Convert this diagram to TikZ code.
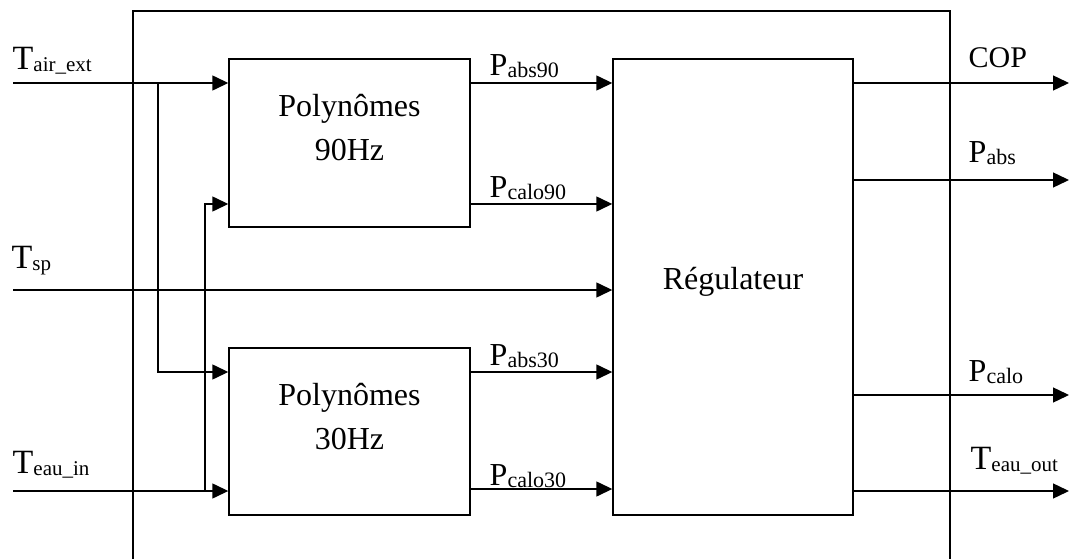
\documentclass[tikz,border=0pt]{standalone}
\usepackage{fontspec}
\setmainfont{Liberation Serif}
\usetikzlibrary{arrows.meta}
\newcommand\Tlab[1]{{\fontsize{34}{40}\selectfont T}\raisebox{-2pt}{\fontsize{21}{25}\selectfont #1}}
\newcommand\Plab[1]{{\fontsize{32}{40}\selectfont P}\raisebox{-2pt}{\fontsize{22}{25}\selectfont #1}}
\begin{document}
\begin{tikzpicture}[x=1pt,y=-1pt,line width=1.4pt,
  blk/.style={draw,inner sep=0pt},
  arr/.style={-{Triangle[length=16pt,width=15pt]}},
  lab/.style={anchor=base west,inner sep=0pt},
  boxtxt/.style={inner sep=0pt,align=center,font=\fontsize{32}{44}\selectfont}]
\useasboundingbox (0,0) rectangle (1072,559);
% frame
\draw (133,562) -- (133,11) -- (950,11) -- (950,562);
% blocks
\node[blk,minimum width=241pt,minimum height=168pt] (p90) at (349.5,143) {};
\node[blk,minimum width=241pt,minimum height=167pt] (p30) at (349.5,431.5) {};
\node[blk,minimum width=240pt,minimum height=456pt] (reg) at (733,287) {};
\node[boxtxt,anchor=north] (t90) at (349.5,94) {Polynômes\\90Hz};
\node[boxtxt,anchor=north] (t30) at (349.5,383) {Polynômes\\30Hz};
\node[boxtxt,anchor=base] (treg) at (733,289) {Régulateur};
% levels and free ends
\coordinate (ta) at (13,83);
\coordinate (ts) at (13,290);
\coordinate (te) at (13,491);
\coordinate (ja) at (158,83);
\coordinate (je) at (205,491);
\coordinate (L204) at (0,204);
\coordinate (L372) at (0,372);
\coordinate (L489) at (0,489);
\coordinate (o1) at (1069,83);
\coordinate (o2) at (1069,180);
\coordinate (o3) at (1069,395);
\coordinate (o4) at (1069,491);
% inputs
\draw[arr] (ta) -- (ta -| p90.west);
\draw[arr] (ja) |- (p30.west |- L372);
\draw[arr] (te) -- (te -| p30.west);
\draw[arr] (je) |- (p90.west |- L204);
\draw[arr] (ts) -- (ts -| reg.west);
% internal
\draw[arr] (p90.east |- ta) -- (reg.west |- ta);
\draw[arr] (p90.east |- L204) -- (reg.west |- L204);
\draw[arr] (p30.east |- L372) -- (reg.west |- L372);
\draw[arr] (p30.east |- L489) -- (reg.west |- L489);
% outputs
\draw[arr] (reg.east |- o1) -- (o1);
\draw[arr] (reg.east |- o2) -- (o2);
\draw[arr] (reg.east |- o3) -- (o3);
\draw[arr] (reg.east |- o4) -- (o4);
% labels
\node[lab] (lta) at (12,70) {\Tlab{air\_ext}};
\node[lab] (lts) at (11,268) {\Tlab{sp}};
\node[lab] (lte) at (12,473) {\Tlab{eau\_in}};
\node[lab] (lpa9) at (489,76) {\Plab{abs90}};
\node[lab] (lpc9) at (489,197) {\Plab{calo90}};
\node[lab] (lpa3) at (489,365) {\Plab{abs30}};
\node[lab] (lpc3) at (489,485) {\Plab{calo30}};
\node[lab] (lcop) at (968,68) {\fontsize{30}{36}\selectfont COP};
\node[lab] (lpab) at (968,163) {\Plab{abs}};
\node[lab] (lpca) at (968,381) {\Plab{calo}};
\node[lab] (lteo) at (970,469) {\Tlab{eau\_out}};
\end{tikzpicture}
\end{document}
